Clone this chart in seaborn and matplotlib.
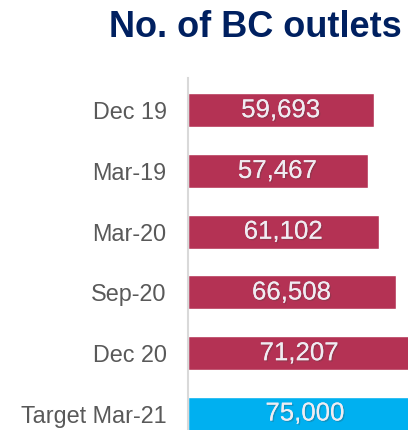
import matplotlib
matplotlib.use("Agg")
import matplotlib.pyplot as plt
import matplotlib.patheffects as pe
import seaborn as sns

categories = ["Dec 19", "Mar-19", "Mar-20", "Sep-20", "Dec 20", "Target Mar-21"]
values = [59693, 57467, 61102, 66508, 71207, 75000]
colors = ["#B43254", "#B43254", "#B43254", "#B43254", "#B43254", "#00B0F0"]
title = "No. of BC outlets"

sns.set_style("white")
plt.rcParams["font.family"] = ["Liberation Sans", "DejaVu Sans"]

W, H = 408, 430
fig = plt.figure(figsize=(W / 100, H / 100), dpi=100)
# axes: x=0 at 187.5px, 80000 units spans ~250.6px (extends beyond right edge)
left_px, top_px = 187.5, 78
ax = fig.add_axes([left_px / W, 0, 250.6 / W, (H - top_px) / H])

sns.barplot(x=values, y=categories, hue=categories, palette=colors,
            legend=False, width=0.56, orient="h", ax=ax, saturation=1)

ax.set_xlim(0, 80000)
ax.set_ylim(5.264, -0.53)

for cont, v in zip(ax.containers, values):
    lbls = ax.bar_label(cont, labels=[f"{v:,}"], label_type="center",
                        color="#F0ECF2", fontsize=18.6)
    for t in lbls:
        t.set_path_effects([pe.withSimplePatchShadow(offset=(1, -1),
                                                     shadow_rgbFace="#404040",
                                                     alpha=0.25),
                            pe.Normal()])

ax.set_xlabel("")
ax.set_ylabel("")
ax.set_xticks([])
ax.tick_params(axis="y", length=0, pad=15, labelsize=16.8, labelcolor="#595959")
for s in ["top", "right", "bottom"]:
    ax.spines[s].set_visible(False)
ax.spines["left"].set_color("#D9D9D9")
ax.spines["left"].set_linewidth(1.5)

fig.text(402 / W, 1 - 37 / H, title, ha="right", va="baseline",
         fontsize=26, fontweight="bold", color="#002060")

fig.savefig("out.png", dpi=100)
